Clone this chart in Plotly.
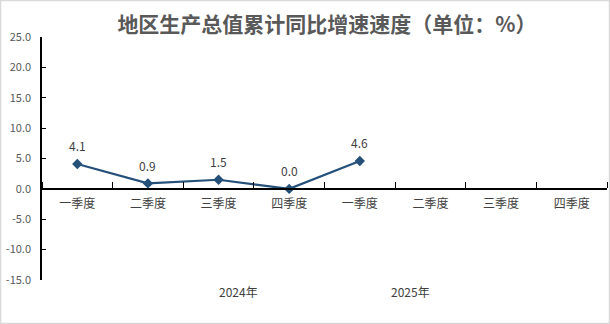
import plotly.graph_objects as go

quarters = ["一季度", "二季度", "三季度", "四季度", "一季度", "二季度", "三季度", "四季度"]
years = ["2024年", "2025年"]
growth = [4.1, 0.9, 1.5, 0.0, 4.6]
y_ticks = [25.0, 20.0, 15.0, 10.0, 5.0, 0.0, -5.0, -10.0, -15.0]

FONT = "Noto Sans CJK SC"
W, H = 610, 324
ML, MR, MT, MB = 42, 3, 37, 44
pw, ph = W - ML - MR, H - MT - MB

x_pos = list(range(len(growth)))

fig = go.Figure()
fig.add_trace(go.Scatter(
    x=x_pos, y=growth,
    mode="lines+markers",
    line=dict(color="#24507A", width=2.2),
    marker=dict(symbol="diamond", size=8, color="#24507A"),
    cliponaxis=False,
    showlegend=False,
))

# value labels above each point
for xv, v in zip(x_pos, growth):
    fig.add_annotation(
        x=xv, y=v, text=f"{v:.1f}", showarrow=False,
        yshift=18, xanchor="center", yanchor="middle",
        font=dict(family=FONT, size=12, color="#404040"),
    )

y_min, y_max = min(y_ticks), max(y_ticks)
zero_frac = (0 - y_min) / (y_max - y_min)

fig.update_layout(
    width=W, height=H,
    margin=dict(l=ML, r=MR, t=MT, b=MB),
    paper_bgcolor="white", plot_bgcolor="white",
    title=dict(
        text="地区生产总值累计同比增速速度（单位：%）",
        x=(327 - ML) / pw, xref="paper", xanchor="center",
        y=1 - 25 / H, yanchor="middle",
        font=dict(family=FONT, size=21, color="#595959", weight="bold"),
    ),
    xaxis=dict(
        range=[-0.5, len(quarters) - 0.5],
        anchor="free", position=zero_frac,
        showline=True, linecolor="#000000", linewidth=1.5,
        tickvals=list(range(len(quarters))), ticktext=quarters,
        ticks="", ticklabelstandoff=4,
        tickfont=dict(family=FONT, size=12, color="#404040"),
        minor=dict(tickvals=[i - 0.5 for i in range(len(quarters) + 1)],
                   ticks="inside", ticklen=6, tickcolor="#000000", tickwidth=1.2),
        showgrid=False, zeroline=False, fixedrange=True,
    ),
    yaxis=dict(
        range=[y_min, y_max],
        tickvals=y_ticks, ticktext=[f"{v:.1f}" for v in y_ticks],
        ticks="inside", ticklen=4, tickcolor="#000000", tickwidth=1.2,
        showline=True, linecolor="#000000", linewidth=1.5,
        ticklabelstandoff=7,
        tickfont=dict(family=FONT, size=11, color="#595959"),
        showgrid=False, zeroline=False,
    ),
)

# year group labels
for yr, xp in zip(years, [238, 410]):
    fig.add_annotation(
        text=yr, xref="paper", yref="paper",
        x=(xp - ML) / pw, y=(H - MB - 291) / ph,
        showarrow=False, xanchor="center", yanchor="middle",
        font=dict(family=FONT, size=12, color="#404040"),
    )

# thin outer frame
fig.add_shape(
    type="rect", xref="paper", yref="paper",
    x0=(0.5 - ML) / pw, x1=(W - 0.5 - ML) / pw,
    y0=(H - MB - (H - 0.5)) / ph, y1=(H - MB - 0.5) / ph,
    line=dict(color="#D9D9D9", width=1.5), layer="below",
)

fig.write_html("out.html")
